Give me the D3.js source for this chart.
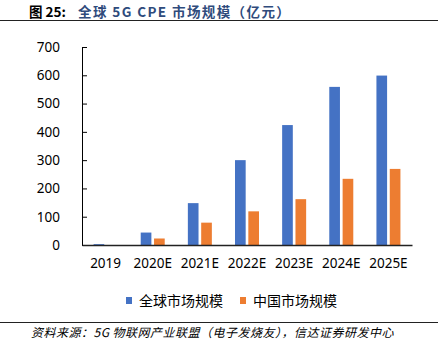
<!DOCTYPE html>
<html>
<head>
<meta charset="utf-8">
<script src="https://cdn.jsdelivr.net/npm/d3@7"></script>
<style>
  body { margin: 0; background: #fff; }
  svg { display: block; font-family: "Noto Sans CJK SC", "Noto Sans", sans-serif; }
</style>
</head>
<body>
<script>
//Width and height
var w = 438;
var h = 351;

//Data
var years = ["2019", "2020E", "2021E", "2022E", "2023E", "2024E", "2025E"];
var seriesNames = ["全球市场规模", "中国市场规模"];
var globalValues = [3, 44, 148, 300, 424, 559, 599];
var chinaValues = [0, 23, 79, 119, 162, 234, 269];
var yTicks = [0, 100, 200, 300, 400, 500, 600, 700];
var colors = ["#4472C4", "#ED7D31"];

var plot = { left: 82, right: 412, top: 47, bottom: 245 };

var svg = d3.select("body")
  .append("svg")
  .attr("width", w)
  .attr("height", h);

//Title
var title = svg.append("text")
  .attr("x", 29)
  .attr("y", 17)
  .attr("font-size", 13.5)
  .attr("font-weight", "bold");
title.append("tspan").attr("fill", "#000").text("图 25:");
title.append("tspan").attr("x", 78).attr("fill", "#2F4B7C")
  .attr("letter-spacing", 1.4)
  .text("全球 5G CPE  市场规模（亿元）");

svg.append("line")
  .attr("x1", 0).attr("x2", w)
  .attr("y1", 20.5).attr("y2", 20.5)
  .attr("stroke", "#222").attr("stroke-width", 1);

//Scales
var x0 = d3.scaleBand()
  .domain(years)
  .range([plot.left, plot.right]);

var x1 = d3.scaleBand()
  .domain([0, 1])
  .range([x0.bandwidth() / 2 - 12, x0.bandwidth() / 2 + 12])
  .paddingInner(0.2);

var yScale = d3.scaleLinear()
  .domain([0, 700])
  .range([plot.bottom, plot.top]);

//Bars
var groups = svg.selectAll("g.year")
  .data(years)
  .enter()
  .append("g")
  .attr("class", "year")
  .attr("transform", function(d) { return "translate(" + x0(d) + ",0)"; });

groups.selectAll("rect")
  .data(function(d, i) { return [globalValues[i], chinaValues[i]]; })
  .enter()
  .append("rect")
  .attr("x", function(d, j) { return x1(j); })
  .attr("width", x1.bandwidth())
  .attr("y", function(d) { return yScale(d); })
  .attr("height", function(d) { return plot.bottom - yScale(d); })
  .attr("fill", function(d, j) { return colors[j]; });

//Y axis
var yAxis = d3.axisLeft(yScale)
  .tickValues(yTicks)
  .tickSizeInner(-5)
  .tickSizeOuter(0)
  .tickPadding(22);

var gy = svg.append("g")
  .attr("transform", "translate(" + plot.left + ",0)")
  .call(yAxis);
gy.selectAll("path, line").attr("stroke", "#000").attr("stroke-width", 1);
gy.selectAll("text").attr("font-size", 13.5).attr("fill", "#000")
  .attr("font-family", "Noto Sans, sans-serif");

//X axis
var xAxis = d3.axisBottom(x0)
  .tickSize(0)
  .tickPadding(13);

var gx = svg.append("g")
  .attr("transform", "translate(0," + plot.bottom + ")")
  .call(xAxis);
gx.select("path").attr("stroke", "#222").attr("stroke-width", 1.6);
gx.selectAll("text").attr("font-size", 13.5).attr("fill", "#000")
  .attr("font-family", "Noto Sans, sans-serif");

//Legend
var legendX = [126, 240];
var legend = svg.selectAll("g.legend")
  .data(seriesNames)
  .enter()
  .append("g")
  .attr("class", "legend")
  .attr("transform", function(d, i) { return "translate(" + legendX[i] + ",297)"; });

legend.append("rect")
  .attr("width", 6).attr("height", 7)
  .attr("fill", function(d, i) { return colors[i]; });

legend.append("text")
  .attr("x", 13)
  .attr("y", 4)
  .attr("dy", "0.35em")
  .attr("font-size", 14)
  .attr("fill", "#000")
  .text(function(d) { return d; });

//Footer
svg.append("line")
  .attr("x1", 0).attr("x2", w)
  .attr("y1", 322.5).attr("y2", 322.5)
  .attr("stroke", "#222").attr("stroke-width", 1);

svg.append("text")
  .attr("x", 31)
  .attr("y", 337)
  .attr("font-size", 12)
  .attr("font-style", "italic")
  .attr("letter-spacing", 0.5)
  .attr("fill", "#000")
  .text("资料来源：5G 物联网产业联盟（电子发烧友），信达证券研发中心");
</script>
</body>
</html>
